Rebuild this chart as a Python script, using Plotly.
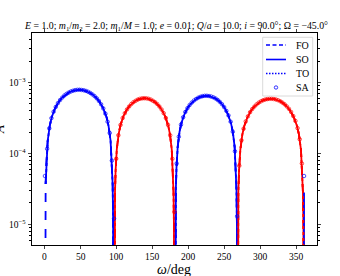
import plotly.graph_objects as go

# ---------------- data ----------------
# four lobes of the curve (|value| on log axis); sign: + blue, - red
omega_lobe1 = [0, 0.29, 0.95, 1.9, 3.8, 6.65, 9.5, 14.25, 19, 23.75, 28.5, 33.25, 38, 42.75, 47.5,
               52.25, 57, 61.75, 66.5, 71.25, 76, 80.75, 85.5, 88.35, 91.2, 93.1, 94.05, 94.72, 95]
fo_lobe1 = [1e-9, 1.19e-5, 3.71e-5, 7.51e-5, 1.50e-4, 2.45e-4, 3.27e-4, 4.37e-4, 5.31e-4, 6.09e-4,
            6.74e-4, 7.24e-4, 7.61e-4, 7.83e-4, 7.90e-4, 7.83e-4, 7.61e-4, 7.24e-4, 6.74e-4, 6.09e-4,
            5.31e-4, 4.37e-4, 3.27e-4, 2.45e-4, 1.50e-4, 7.51e-5, 3.71e-5, 1.19e-5, 1e-9]

omega_lobe2 = [96.5, 96.75, 97.33, 98.16, 99.82, 102.31, 104.8, 108.95, 113.1, 117.25, 121.4, 125.55,
               129.7, 133.85, 138.0, 142.15, 146.3, 150.45, 154.6, 158.75, 162.9, 167.05, 171.2,
               173.69, 176.18, 177.84, 178.67, 179.25, 179.5]
fo_lobe2 = [-1e-9, -9.0e-6, -2.82e-5, -5.70e-5, -1.14e-4, -1.86e-4, -2.48e-4, -3.32e-4, -4.03e-4,
            -4.63e-4, -5.12e-4, -5.50e-4, -5.78e-4, -5.95e-4, -6.00e-4, -5.95e-4, -5.78e-4, -5.50e-4,
            -5.12e-4, -4.63e-4, -4.03e-4, -3.32e-4, -2.48e-4, -1.86e-4, -1.14e-4, -5.70e-5, -2.82e-5,
            -9.0e-6, -1e-9]

omega_lobe3 = [181, 181.26, 181.86, 182.72, 184.44, 187.02, 189.6, 193.9, 198.2, 202.5, 206.8, 211.1,
               215.4, 219.7, 224.0, 228.3, 232.6, 236.9, 241.2, 245.5, 249.8, 254.1, 258.4, 260.98,
               263.56, 265.28, 266.14, 266.74, 267]
fo_lobe3 = [1e-9, 9.75e-6, 3.06e-5, 6.18e-5, 1.24e-4, 2.02e-4, 2.69e-4, 3.59e-4, 4.37e-4, 5.01e-4,
            5.54e-4, 5.96e-4, 6.26e-4, 6.44e-4, 6.50e-4, 6.44e-4, 6.26e-4, 5.96e-4, 5.54e-4, 5.01e-4,
            4.37e-4, 3.59e-4, 2.69e-4, 2.02e-4, 1.24e-4, 6.18e-5, 3.06e-5, 9.75e-6, 1e-9]

omega_lobe4 = [267.8, 268.08, 268.72, 269.63, 271.46, 274.21, 276.96, 281.54, 286.12, 290.7, 295.28,
               299.86, 304.44, 309.02, 313.6, 318.18, 322.76, 327.34, 331.92, 336.5, 341.08, 345.66,
               350.24, 352.99, 355.74, 357.57, 358.48, 359.13, 359.4]
fo_lobe4 = [-1e-9, -8.85e-6, -2.77e-5, -5.61e-5, -1.12e-4, -1.83e-4, -2.44e-4, -3.26e-4, -3.96e-4,
            -4.55e-4, -5.03e-4, -5.41e-4, -5.68e-4, -5.85e-4, -5.90e-4, -5.85e-4, -5.68e-4, -5.41e-4,
            -5.03e-4, -4.55e-4, -3.96e-4, -3.26e-4, -2.44e-4, -1.83e-4, -1.12e-4, -5.61e-5, -2.77e-5,
            -8.85e-6, -1e-9]

# short positive tail of the SO curve at the very end
omega_so_tail = [359.6, 360.0]
so_tail = [1e-9, 2.8e-5]

# SA samples (signed)
sa_omega = list(range(0, 361, 3))
sa_value = [4.8e-5, 1.16e-4, 2.25e-4, 3.14e-4, 3.87e-4, 4.52e-4, 5.12e-4, 5.65e-4, 6.12e-4, 6.56e-4,
            6.91e-4, 7.21e-4, 7.47e-4, 7.65e-4, 7.80e-4, 7.88e-4, 7.90e-4, 7.84e-4, 7.76e-4, 7.61e-4,
            7.39e-4, 7.11e-4, 6.79e-4, 6.41e-4, 5.98e-4, 5.49e-4, 4.93e-4, 4.31e-4, 3.63e-4, 2.80e-4,
            1.94e-4, 7.9e-5, 1.2e-5,
            -8.4e-5, -1.80e-4, -2.52e-4, -3.15e-4, -3.69e-4, -4.17e-4, -4.59e-4, -4.97e-4, -5.28e-4,
            -5.52e-4, -5.74e-4, -5.89e-4, -5.97e-4, -6.00e-4, -5.97e-4, -5.89e-4, -5.74e-4, -5.52e-4,
            -5.28e-4, -4.97e-4, -4.59e-4, -4.17e-4, -3.69e-4, -3.15e-4, -2.52e-4, -1.80e-4, -8.4e-5,
            -1.5e-5,
            7.2e-5, 1.72e-4, 2.54e-4, 3.23e-4, 3.84e-4, 4.34e-4, 4.80e-4, 5.20e-4, 5.56e-4, 5.85e-4,
            6.10e-4, 6.28e-4, 6.42e-4, 6.49e-4, 6.49e-4, 6.44e-4, 6.33e-4, 6.18e-4, 5.95e-4, 5.67e-4,
            5.33e-4, 4.94e-4, 4.49e-4, 3.98e-4, 3.43e-4, 2.80e-4, 2.02e-4, 1.07e-4, 1.3e-5,
            -6.7e-5, -1.53e-4, -2.23e-4, -2.83e-4, -3.33e-4, -3.81e-4, -4.22e-4, -4.57e-4, -4.91e-4,
            -5.19e-4, -5.42e-4, -5.61e-4, -5.74e-4, -5.84e-4, -5.89e-4, -5.89e-4, -5.84e-4, -5.75e-4,
            -5.62e-4, -5.43e-4, -5.20e-4, -4.93e-4, -4.60e-4, -4.25e-4, -3.84e-4, -3.36e-4, -2.87e-4,
            -2.27e-4, -1.58e-4, -7.2e-5, 4.8e-5]

x_ticks = [0, 50, 100, 150, 200, 250, 300, 350]
x_tick_text = ["0", "50", "100", "150", "200", "250", "300", "350"]
y_ticks = [1e-5, 1e-4, 1e-3]
y_tick_text = ["10<sup>−5</sup>", "10<sup>−4</sup>", "10<sup>−3</sup>"]
y_minor = [6e-6, 7e-6, 8e-6, 9e-6,
           2e-5, 3e-5, 4e-5, 5e-5, 6e-5, 7e-5, 8e-5, 9e-5,
           2e-4, 3e-4, 4e-4, 5e-4, 6e-4, 7e-4, 8e-4, 9e-4,
           2e-3, 3e-3, 4e-3]

legend_names = ["FO", "SO", "TO", "SA"]

title_text = ("<i>E</i> = 1.0; <i>m</i><sub>1</sub>/<i>m</i><sub>2</sub> = 2.0; "
              "<i>m</i><sub>1</sub>/<i>M</i> = 1.0; <i>e</i> = 0.01; <i>Q</i>/<i>a</i> = 10.0; "
              "<i>i</i> = 90.0°; Ω = −45.0°")

BLUE = "#0000ff"
RED = "#ff0000"
FONT = "Liberation Serif"
W, H = 340, 276
L, R, T, B = 32, 23, 33, 31
PW, PH = W - L - R, H - T - B


def px(x):
    return (x - L) / PW


def py(y):
    return (H - B - y) / PH


lobes = [(omega_lobe1, fo_lobe1), (omega_lobe2, fo_lobe2), (omega_lobe3, fo_lobe3), (omega_lobe4, fo_lobe4)]

fig = go.Figure()


def color_of(vals):
    return BLUE if vals[len(vals) // 2] > 0 else RED


styles = [("FO", "dash"), ("SO", "solid"), ("TO", "dot")]
for name, dash in styles:
    for k, (om, vals) in enumerate(lobes):
        xs, ys = om, vals
        if name != "FO" and k == 0:
            xs, ys = om[2:], vals[2:]
        fig.add_trace(go.Scatter(
            x=xs, y=[abs(v) for v in ys], mode="lines",
            line=dict(color=color_of(vals), width=1.8, dash=dash),
            name=name, showlegend=False, hoverinfo="skip"))
    if name == "SO":
        fig.add_trace(go.Scatter(
            x=omega_so_tail, y=so_tail, mode="lines",
            line=dict(color=BLUE, width=1.8), showlegend=False, hoverinfo="skip"))

fig.add_trace(go.Scatter(
    x=sa_omega, y=[abs(v) for v in sa_value], mode="markers", name="SA", showlegend=False,
    marker=dict(symbol="circle-open", size=3.5,
                color=[BLUE if v > 0 else RED for v in sa_value],
                line=dict(width=0.7)),
    hoverinfo="skip"))

# ---- legend (drawn compactly, matplotlib style) ----
shapes = [dict(type="rect", xref="paper", yref="paper",
               x0=px(262.7), x1=px(312.7), y0=py(96), y1=py(37.3),
               line=dict(color="#d0d0d0", width=0.8), fillcolor="rgba(255,255,255,0.85)",
               layer="above")]
ly = [45, 59.5, 73.5, 87.5]
for dash, yy in zip(["4px,2.5px", "solid", "1.5px,1.5px"], ly[:3]):
    shapes.append(dict(type="line", xref="paper", yref="paper",
                       x0=px(266), x1=px(286), y0=py(yy), y1=py(yy),
                       line=dict(color=BLUE, width=1.6, dash=dash), layer="above"))
shapes.append(dict(type="circle", xref="paper", yref="paper",
                   x0=px(274.3), x1=px(277.7), y0=py(89.2), y1=py(85.8),
                   line=dict(color=BLUE, width=0.8), layer="above"))
annotations = []
for nm, yy in zip(legend_names, ly):
    annotations.append(dict(text=nm, xref="paper", yref="paper", x=px(293.5), y=py(yy),
                            xanchor="left", yanchor="middle", showarrow=False,
                            font=dict(size=10, family=FONT)))
annotations.append(dict(text="<i>A</i>", xref="paper", yref="paper", x=px(-1), y=py(130),
                        xanchor="center", yanchor="middle", textangle=-90, showarrow=False,
                        font=dict(size=13, family=FONT)))
annotations.append(dict(text=title_text, xref="paper", yref="paper", x=px(175.5), y=py(26),
                        xanchor="center", yanchor="middle", showarrow=False,
                        font=dict(size=9.8, family=FONT)))
annotations.append(dict(text="<i>ω</i>/deg", xref="paper", yref="paper", x=px(174), y=py(269),
                        xanchor="center", yanchor="middle", showarrow=False,
                        font=dict(size=14, family=FONT)))
# x tick labels placed under the ticks (data x, paper y)
for xv, tx in zip(x_ticks, x_tick_text):
    annotations.append(dict(text=tx, xref="x", yref="paper", x=xv, y=py(256.5),
                            xanchor="center", yanchor="middle", showarrow=False,
                            font=dict(size=9.5, family=FONT)))

fig.update_layout(
    width=W, height=H,
    margin=dict(l=L, r=R, t=T, b=B),
    paper_bgcolor="white", plot_bgcolor="white",
    font=dict(family=FONT, color="black", size=9.5),
    showlegend=False,
    shapes=shapes, annotations=annotations,
)
fig.update_xaxes(
    range=[-18, 378], tickvals=x_ticks, showticklabels=False,
    ticks="outside", ticklen=3.5, tickwidth=0.8,
    showline=True, linecolor="black", linewidth=0.8, mirror="ticks", showgrid=False, zeroline=False,
    automargin=False)
fig.update_yaxes(
    type="log", range=[-5.292, -2.302], tickvals=y_ticks, ticktext=y_tick_text,
    ticks="outside", ticklen=3.5, tickwidth=0.8, automargin=False,
    minor=dict(tickvals=y_minor, ticks="outside", ticklen=2, tickwidth=0.6, tickcolor="black"),
    showline=True, linecolor="black", linewidth=0.8, mirror="ticks", showgrid=False, zeroline=False,
    tickfont=dict(size=9.5))

fig.write_html("out.html", config={"displayModeBar": False},
               post_script="document.body.style.margin='0';")
